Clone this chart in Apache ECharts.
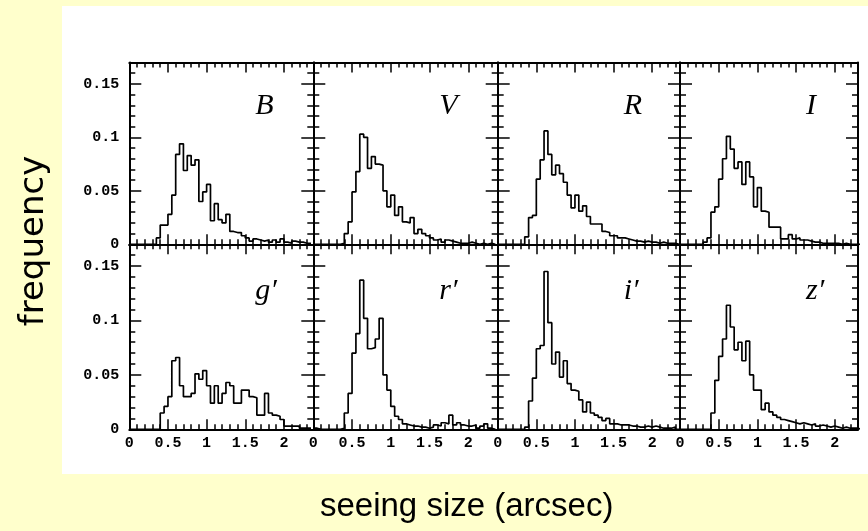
<!DOCTYPE html>
<html>
<head>
<meta charset="utf-8">
<script src="https://cdn.jsdelivr.net/npm/echarts@6/dist/echarts.min.js"></script>
<style>
  html, body { margin: 0; padding: 0; background: #ffffcc; }
  #chart { width: 868px; height: 531px; }
</style>
</head>
<body>
<div id="chart"></div>
<script>
// histogram bins of 0.05 arcsec starting at 0
const binWidth = 0.05;
const bandNames = ['B', 'V', 'R', 'I', 'g′', 'r′', 'i′', 'z′'];

const freqB = [0,0,0,0,0,0,0, 0.006,0.018,0.018, 0.028,0.046,0.084,0.094,0.069,0.083,0.074,0.079,0.040,0.049,
  0.056,0.022,0.038,0.023,0.020,0.028,0.012,0.011,0.011,0.008, 0.006,0.003,0.005,0.004,0.003,0.004,0.002,0.004,0.002,0.005,
  0.002,0.001,0.003,0.002,0.002,0.001,0.001];
const freqV = [0,0,0,0,0,0,0, 0.001,0.010,0.021, 0.049,0.068,0.103,0.100,0.071,0.082,0.075,0.074,0.050,0.035,
  0.046,0.027,0.035,0.021,0.020,0.025,0.010,0.014,0.010,0.008, 0.006,0.004,0.005,0.002,0.004,0.003,0.002,0.001,0.001,0.001,
  0.002,0.001,0,0.001,0,0.001,0];
const freqR = [0,0,0,0,0,0,0, 0.007,0.025,0.027, 0.061,0.079,0.106,0.084,0.065,0.074,0.066,0.058,0.046,0.034,
  0.046,0.031,0.036,0.026,0.019,0.019,0.019,0.012,0.011,0.008, 0.008,0.006,0.006,0.005,0.004,0.003,0.003,0.002,0.003,0.002,
  0.002,0.001,0.002,0.001,0.001,0.001,0];
const freqI = [0,0,0,0,0,0,0.002, 0.006,0.030,0.035, 0.061,0.080,0.101,0.089,0.071,0.077,0.056,0.077,0.063,0.035,
  0.053,0.031,0.030,0.016,0.016,0.016,0.005,0.005,0.009,0.005, 0.006,0.004,0.004,0.003,0.002,0.002,0.001,0.001,0.001,0.001,
  0.001,0,0.001,0,0,0,0];
const freqGp = [0,0,0,0,0,0,0,0, 0.015,0.021, 0.030,0.063,0.066,0.040,0.030,0.030,0.033,0.051,0.046,0.054,
  0.040,0.024,0.040,0.024,0.033,0.043,0.040,0.024,0.024,0.036, 0.036,0.030,0.029,0.013,0.013,0.033,0.015,0.013,0.012,0.009,
  0.003,0.003,0.003,0.003,0.001,0.001,0.001];
const freqRp = [0.001,0,0,0,0,0,0, 0.001,0.015,0.033, 0.070,0.088,0.137,0.102,0.074,0.075,0.083,0.102,0.050,0.036,
  0.021,0.012,0.009,0.005,0.004,0.003,0.003,0.002,0.002,0.001, 0.002,0.004,0.003,0.006,0.005,0.013,0.004,0.006,0.004,0.003,
  0.003,0.004,0.001,0.003,0.005,0.001,0];
const freqIp = [0,0,0,0,0,0,0, 0.002,0.026,0.047, 0.074,0.077,0.145,0.098,0.060,0.071,0.048,0.063,0.042,0.036,
  0.035,0.027,0.016,0.025,0.015,0.013,0.011,0.008,0.010,0.005, 0.005,0.004,0.004,0.004,0.003,0.003,0.002,0.002,0.003,0.002,
  0.003,0.002,0.001,0.001,0.001,0.002,0];
const freqZp = [0,0,0,0,0,0,0,0, 0.015,0.045, 0.067,0.083,0.114,0.094,0.073,0.080,0.063,0.081,0.050,0.036,
  0.036,0.018,0.024,0.016,0.013,0.011,0.009,0.008,0.007,0.006, 0.005,0.006,0.005,0.004,0.005,0.003,0.004,0.003,0.002,0.003,
  0.002,0.001,0.002,0.001,0.001,0.001,0];

const bandFreqs = [freqB, freqV, freqR, freqI, freqGp, freqRp, freqIp, freqZp];

// panel layout
const colLeft = [129.3, 313.3, 497.7, 680];
const colRight = [313.3, 497.7, 680, 858];
const rowTop = [62.5, 244.3];
const rowBottom = [244.3, 429.3];
const xMaxCol = [2.38, 2.38, 2.36, 2.30];
const yMax = 0.17;

const tickFont = { fontFamily: 'Liberation Mono', fontWeight: 'bold', fontSize: 15, color: '#000' };
const fmt = v => String(+v.toFixed(2));

function xAx(i, col, pos, major, labels) {
  return {
    gridIndex: i, type: 'value', position: pos, offset: 0,
    min: 0, max: xMaxCol[col], interval: major ? 0.5 : 0.1,
    axisLine: { show: major, onZero: false, lineStyle: { color: '#000', width: 2 } },
    axisTick: { show: true, inside: true, length: major ? 10 : 5, lineStyle: { color: '#000', width: 1.5 } },
    axisLabel: Object.assign({ show: labels, margin: 6, showMaxLabel: false, formatter: fmt }, tickFont),
    splitLine: { show: false }
  };
}

function yAx(i, pos, major, labels) {
  return {
    gridIndex: i, type: 'value', position: pos, offset: 0,
    min: 0, max: yMax, interval: major ? 0.05 : 0.01,
    axisLine: { show: major, onZero: false, lineStyle: { color: '#000', width: 2 } },
    axisTick: { show: true, inside: true, length: major ? 12 : 6, lineStyle: { color: '#000', width: 1.5 } },
    axisLabel: Object.assign({ show: labels, margin: 10, showMaxLabel: false, formatter: fmt }, tickFont),
    splitLine: { show: false }
  };
}

const grid = [], xAxis = [], yAxis = [], series = [];
const graphic = [{
  type: 'rect', z: -10, silent: true,
  shape: { x: 62, y: 6, width: 806, height: 468 },
  style: { fill: '#ffffff' }
}];

bandFreqs.forEach((freq, i) => {
  const row = Math.floor(i / 4), col = i % 4;
  grid.push({
    left: colLeft[col], top: rowTop[row],
    width: colRight[col] - colLeft[col], height: rowBottom[row] - rowTop[row]
  });
  xAxis.push(xAx(i, col, 'bottom', true, row === 1));
  xAxis.push(xAx(i, col, 'bottom', false, false));
  xAxis.push(xAx(i, col, 'top', true, false));
  xAxis.push(xAx(i, col, 'top', false, false));
  yAxis.push(yAx(i, 'left', true, col === 0));
  yAxis.push(yAx(i, 'left', false, false));
  yAxis.push(yAx(i, 'right', true, false));
  yAxis.push(yAx(i, 'right', false, false));

  const pts = freq.map((v, j) => [j * binWidth, v]);
  pts.push([freq.length * binWidth, freq[freq.length - 1]]);
  series.push({
    type: 'line', xAxisIndex: i * 4, yAxisIndex: i * 4,
    step: 'end', symbol: 'none', silent: true, z: 5,
    lineStyle: { color: '#000', width: 1.7 },
    data: pts
  });

  graphic.push({
    type: 'text', silent: true,
    x: colLeft[col] + 126, y: rowTop[row] + (row === 0 ? 44 : 47),
    style: {
      text: bandNames[i], fill: '#000',
      font: 'italic 30px "Liberation Serif", "DejaVu Serif", serif',
      align: 'left', verticalAlign: 'middle'
    }
  });
});

graphic.push({
  type: 'text', silent: true, x: 34, y: 241, rotation: Math.PI / 2,
  style: {
    text: 'frequency', fill: '#000', font: '34px "DejaVu Sans", sans-serif',
    align: 'center', verticalAlign: 'middle'
  }
});
graphic.push({
  type: 'text', silent: true, x: 466.7, y: 507,
  style: {
    text: 'seeing size (arcsec)', fill: '#000', font: '33px "Liberation Sans", sans-serif',
    align: 'center', verticalAlign: 'middle'
  }
});

const chart = echarts.init(document.getElementById('chart'));
chart.setOption({
  backgroundColor: '#ffffcc',
  animation: false,
  grid: grid,
  xAxis: xAxis,
  yAxis: yAxis,
  series: series,
  graphic: graphic
});
</script>
</body>
</html>
